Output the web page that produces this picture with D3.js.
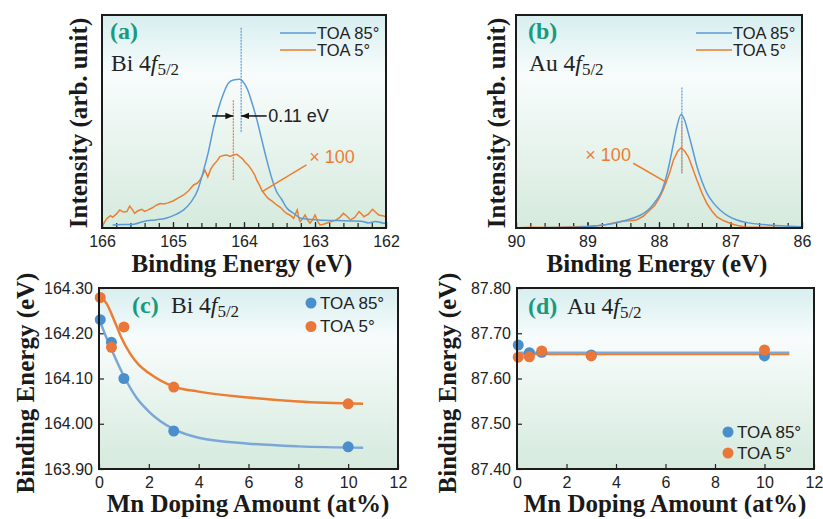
<!DOCTYPE html>
<html>
<head>
<meta charset="utf-8">
<script src="https://cdn.jsdelivr.net/npm/d3@7"></script>
<style>
body { margin: 0; background: #fff; }
svg { display: block; }
</style>
</head>
<body>
<svg id="chart" width="823" height="519"></svg>
<script>
// ---- data ----
// (a) Bi 4f5/2 spectra: [binding energy eV, intensity arb.]
var biToa85 = [[165.85,1.4],[165.7,1.6],[165.55,1.8],[165.4,3.2],[165.25,3.8],[165.1,4.6],[164.95,6.5],[164.85,8.5],[164.75,12],[164.65,18],[164.57,27],[164.5,36],[164.43,47],[164.36,56],[164.29,63],[164.22,68],[164.15,69.5],[164.06,69.8],[164.0,68],[163.95,65],[163.89,59],[163.82,51],[163.75,41.5],[163.68,32],[163.61,23.5],[163.54,17],[163.47,13.5],[163.4,9.5],[163.3,6.8],[163.2,4.6],[163.05,4],[162.9,3.6],[162.7,3.5],[162.5,3.3],[162.35,3.2],[162.25,2.4],[162.15,3],[162.05,2.4],[162.0,2.2]];
var biToa5 = [[166.0,0.6],[165.96,3],[165.93,4.5],[165.88,5.8],[165.85,5],[165.8,6.5],[165.75,8.5],[165.7,7.5],[165.65,7.7],[165.61,10.3],[165.57,8.5],[165.54,6.9],[165.5,8],[165.44,8.8],[165.4,7.8],[165.35,8.5],[165.29,9.5],[165.23,10.8],[165.18,11.5],[165.13,11.3],[165.07,11.8],[165.0,12.7],[164.93,14],[164.85,15.5],[164.78,17.5],[164.71,20.2],[164.66,21],[164.62,22.5],[164.58,25],[164.55,27.2],[164.51,24],[164.47,27.5],[164.43,29.6],[164.38,31.5],[164.34,33.5],[164.29,34],[164.24,34.3],[164.2,33.6],[164.15,34.3],[164.1,34.6],[164.06,33.5],[164.02,32.5],[163.99,31.1],[163.94,29.5],[163.89,27.2],[163.85,25],[163.82,22.5],[163.78,20],[163.75,17.8],[163.7,15.5],[163.66,13.9],[163.6,12.5],[163.54,10.8],[163.48,9.5],[163.44,8],[163.4,6.9],[163.35,6],[163.3,4.5],[163.27,7],[163.25,8.5],[163.23,5],[163.21,3],[163.17,4.5],[163.14,6.1],[163.1,3.5],[163.07,2.2],[163.03,4],[163.0,6.1],[162.96,3],[162.93,1.4],[162.88,1.8],[162.84,2.2],[162.77,3],[162.7,3.8],[162.65,5],[162.6,6.9],[162.55,5.5],[162.5,3.8],[162.44,5],[162.38,7.7],[162.34,6.5],[162.31,5.3],[162.25,6.5],[162.19,8.8],[162.15,7.5],[162.1,6.1],[162.05,5.8],[162.0,5.3]];
var biPeak85 = 164.04, biPeak5 = 164.15;

// (b) Au 4f5/2 spectra
var auToa85 = [[90.0,0],[89.5,0.2],[89.0,0.6],[88.75,1.5],[88.55,2.8],[88.35,4.8],[88.22,6.7],[88.12,9.5],[88.04,12.9],[87.96,17.5],[87.9,23.8],[87.85,31],[87.8,39.4],[87.75,47.5],[87.69,53.4],[87.64,50.5],[87.59,44.6],[87.53,37],[87.47,29],[87.4,22],[87.33,16.4],[87.24,11.8],[87.15,8.6],[87.03,5.6],[86.92,3.9],[86.75,2.4],[86.55,1.6],[86.3,1],[86.0,0.6]];
var auToa5 = [[90.0,0],[89.8,0.3],[89.5,0.2],[89.25,0.5],[89.0,0.8],[88.85,1.2],[88.73,1.7],[88.62,2.5],[88.5,3.3],[88.4,3.4],[88.31,3.9],[88.22,5.5],[88.13,8.3],[88.06,10.5],[87.99,14.5],[87.94,18],[87.9,21.5],[87.85,26],[87.8,31.7],[87.74,36],[87.69,37.7],[87.64,36],[87.59,33.4],[87.53,28],[87.47,22.5],[87.4,16.5],[87.33,11.5],[87.26,8],[87.19,5.2],[87.1,3.5],[86.99,2],[86.9,1.2],[86.8,0.5],[86.5,0.3],[86.0,0]];
var auPeak = 87.68;

// (c) Bi 4f5/2 peak position vs Mn doping
var mnAmount = [0.05, 0.5, 1, 3, 10];
var biBE85 = [164.23, 164.18, 164.10, 163.984, 163.949];
var biBE5 = [164.279, 164.169, 164.214, 164.081, 164.044];
var biFit85 = [[0.0,164.232],[0.3,164.19],[0.6,164.152],[1.0,164.105],[1.5,164.058],[2.0,164.027],[3.0,163.988],[4.0,163.969],[6.0,163.956],[8.0,163.95],[10.6,163.947]];
var biFit5 = [[0.0,164.282],[0.3,164.266],[0.6,164.23],[0.9,164.19],[1.25,164.155],[1.6,164.13],[2.0,164.112],[3.0,164.082],[4.0,164.071],[6.0,164.058],[8.0,164.049],[10.6,164.044]];

// (d) Au 4f5/2 peak position vs Mn doping
var auBE85 = [87.674, 87.657, 87.658, 87.652, 87.650];
var auBE5 = [87.647, 87.648, 87.661, 87.650, 87.663];
var auFit85 = [[0, 87.657], [11, 87.657]];
var auFit5 = [[0, 87.654], [11, 87.654]];

// ticks
var biTicks = [166, 165, 164, 163, 162];
var auTicks = [90, 89, 88, 87, 86];
var mnTicks = [0, 2, 4, 6, 8, 10, 12];
var biBETicks = [163.9, 164.0, 164.1, 164.2, 164.3];
var auBETicks = [87.4, 87.5, 87.6, 87.7, 87.8];

var blue = "#5b9bd5", orange = "#ed7d31", teal = "#179b7c";
var blueDot = "#4a8fcc", orangeDot = "#ea773a";
var serif = "'Liberation Serif', 'Times New Roman', serif";
var sans = "'Liberation Sans', Arial, sans-serif";

var svg = d3.select("#chart");
var defs = svg.append("defs");
var grad = defs.append("linearGradient").attr("id", "bg")
    .attr("x1", 0).attr("y1", 0).attr("x2", 0).attr("y2", 1);
grad.append("stop").attr("offset", "0%").attr("stop-color", "#d7eeef");
grad.append("stop").attr("offset", "28%").attr("stop-color", "#f8fcfc");
grad.append("stop").attr("offset", "100%").attr("stop-color", "#d5eadd");

defs.append("marker").attr("id", "arrow")
    .attr("viewBox", "0 0 10 10").attr("refX", 10).attr("refY", 5)
    .attr("markerWidth", 8).attr("markerHeight", 8)
    .attr("markerUnits", "userSpaceOnUse")
    .attr("orient", "auto")
  .append("path").attr("d", "M0,1 L10,5 L0,9 Z").attr("fill", "#111");

function panelBox(b) {
    svg.append("rect").attr("x", b.l).attr("y", b.t)
        .attr("width", b.r - b.l).attr("height", b.b - b.t)
        .attr("fill", "url(#bg)");
}
function frame(b) {
    svg.append("rect").attr("x", b.l).attr("y", b.t)
        .attr("width", b.r - b.l).attr("height", b.b - b.t)
        .attr("fill", "none").attr("stroke", "#1b1b1b").attr("stroke-width", 2);
}
function styleAxis(g) {
    g.select(".domain").remove();
    g.selectAll(".tick line").attr("stroke", "#222").attr("stroke-width", 1.2);
    g.selectAll(".tick text").attr("font-family", sans).attr("font-size", 16).attr("fill", "#222");
}
function title(x, y, txt, rot) {
    var t = svg.append("text").attr("font-family", serif).attr("font-weight", "bold")
        .attr("font-size", 25).attr("fill", "#1a1a1a").attr("text-anchor", "middle")
        .attr("dy", "0.35em").text(txt);
    if (rot) t.attr("transform", "translate(" + x + "," + y + ") rotate(-90)");
    else t.attr("x", x).attr("y", y);
}
function label(x, y, tag, x2, y2, elem) {
    svg.append("text").attr("x", x).attr("y", y).attr("font-family", serif)
        .attr("font-weight", "bold").attr("font-size", 24).attr("fill", teal).text(tag);
    var t = svg.append("text").attr("x", x2).attr("y", y2).attr("font-family", serif)
        .attr("font-size", 23.5).attr("fill", "#222");
    t.append("tspan").text(elem + " 4");
    t.append("tspan").attr("font-style", "italic").text("f");
    t.append("tspan").attr("font-size", 17).attr("dy", 4).text("5/2");
}

// ---- spectrum panels (a), (b) ----
function spectrum(b, dom, ticks, s85, s5) {
    var x = d3.scaleLinear().domain(dom).range([b.l, b.r]);
    var y = d3.scaleLinear().domain([0, 100]).range([b.b, b.t]);
    panelBox(b);
    var minor = d3.range(dom[1], dom[0] + 0.001, 0.2);
    svg.append("g").attr("transform", "translate(0," + b.b + ")")
        .call(d3.axisBottom(x).tickValues(minor).tickSize(-5).tickFormat(""))
        .call(styleAxis);
    svg.append("g").attr("transform", "translate(0," + b.b + ")")
        .call(d3.axisBottom(x).tickValues(ticks).tickSize(-6).tickPadding(8).tickFormat(d3.format("d")))
        .call(styleAxis);
    var line = d3.line().x(function (d) { return x(d[0]); }).y(function (d) { return y(d[1]); });
    svg.append("path").datum(s5).attr("d", line.curve(d3.curveLinear))
        .attr("fill", "none").attr("stroke", orange).attr("stroke-width", 1.5);
    svg.append("path").datum(s85).attr("d", line.curve(d3.curveMonotoneX))
        .attr("fill", "none").attr("stroke", blue).attr("stroke-width", 1.5);
    // legend
    [["TOA 85°", blue], ["TOA 5°", orange]].forEach(function (d, i) {
        var ly = b.t + 18 + i * 17;
        svg.append("line").attr("x1", b.r - 106).attr("x2", b.r - 70)
            .attr("y1", ly).attr("y2", ly).attr("stroke", d[1]).attr("stroke-width", 1.5);
        svg.append("text").attr("x", b.r - 69).attr("y", ly).attr("dy", "0.35em")
            .attr("font-family", sans).attr("font-size", 16.5).attr("fill", "#222").text(d[0]);
    });
    return { x: x, y: y };
}

var A = { l: 102, r: 386, t: 15, b: 228 };
var B = { l: 516, r: 802, t: 15, b: 228 };
var C = { l: 99, r: 398, t: 288, b: 469 };
var D = { l: 517, r: 814, t: 288, b: 469 };

var sa = spectrum(A, [166, 162], biTicks, biToa85, biToa5);
// peak markers in (a)
svg.append("line").attr("x1", sa.x(biPeak85)).attr("x2", sa.x(biPeak85))
    .attr("y1", sa.y(94)).attr("y2", sa.y(44.6))
    .attr("stroke", blue).attr("stroke-width", 1.2).attr("stroke-dasharray", "2,1");
svg.append("line").attr("x1", sa.x(biPeak5)).attr("x2", sa.x(biPeak5))
    .attr("y1", sa.y(60)).attr("y2", sa.y(22.5))
    .attr("stroke", orange).attr("stroke-width", 1.2).attr("stroke-dasharray", "2,1");
svg.append("line").attr("x1", sa.x(164.45)).attr("x2", sa.x(biPeak5))
    .attr("y1", sa.y(52.6)).attr("y2", sa.y(52.6))
    .attr("stroke", "#111").attr("stroke-width", 1.5).attr("marker-end", "url(#arrow)");
svg.append("line").attr("x1", sa.x(163.68)).attr("x2", sa.x(biPeak85))
    .attr("y1", sa.y(52.6)).attr("y2", sa.y(52.6))
    .attr("stroke", "#111").attr("stroke-width", 1.5).attr("marker-end", "url(#arrow)");
svg.append("text").attr("x", sa.x(163.66)).attr("y", sa.y(52.6)).attr("dy", "0.35em")
    .attr("font-family", sans).attr("font-size", 18).attr("fill", "#222").text("0.11 eV");
svg.append("line").attr("x1", sa.x(163.12)).attr("y1", sa.y(29.6))
    .attr("x2", sa.x(163.75)).attr("y2", sa.y(17))
    .attr("stroke", orange).attr("stroke-width", 1.5);
svg.append("text").attr("x", sa.x(163.08)).attr("y", sa.y(33.3)).attr("dy", "0.35em")
    .attr("font-family", sans).attr("font-size", 18).attr("fill", orange).text("× 100");
frame(A);

var sb = spectrum(B, [90, 86], auTicks, auToa85, auToa5);
svg.append("line").attr("x1", sb.x(auPeak)).attr("x2", sb.x(auPeak))
    .attr("y1", sb.y(66)).attr("y2", sb.y(25.7))
    .attr("stroke", blue).attr("stroke-width", 1.2).attr("stroke-dasharray", "2,1");
svg.append("line").attr("x1", sb.x(auPeak)).attr("x2", sb.x(auPeak))
    .attr("y1", sb.y(50)).attr("y2", sb.y(25.7))
    .attr("stroke", orange).attr("stroke-width", 1.2).attr("stroke-dasharray", "2,1").attr("opacity", 0.8);
svg.append("line").attr("x1", sb.x(88.36)).attr("y1", sb.y(30.4))
    .attr("x2", sb.x(87.89)).attr("y2", sb.y(21.3))
    .attr("stroke", orange).attr("stroke-width", 1.5);
svg.append("text").attr("x", sb.x(89.03)).attr("y", sb.y(34.3)).attr("dy", "0.35em")
    .attr("font-family", sans).attr("font-size", 18).attr("fill", orange).text("× 100");
frame(B);

label(110, 39, "(a)", 111, 71, "Bi");
label(528, 39, "(b)", 529, 71, "Au");
title(78, 123, "Intensity (arb. unit)", true);
title(496, 123, "Intensity (arb. unit)", true);
title(242, 263, "Binding Energy (eV)");
title(657, 263, "Binding Energy (eV)");

// ---- peak position panels (c), (d) ----
function shiftPanel(b, ydom, yticks, v85, v5, f85, f5, legendPos) {
    var x = d3.scaleLinear().domain([0, 12]).range([b.l, b.r]);
    var y = d3.scaleLinear().domain(ydom).range([b.b, b.t]);
    panelBox(b);
    svg.append("g").attr("transform", "translate(0," + b.b + ")")
        .call(d3.axisBottom(x).tickValues(mnTicks).tickSize(-5).tickPadding(8).tickFormat(d3.format("d")))
        .call(styleAxis);
    svg.append("g").attr("transform", "translate(" + b.l + ",0)")
        .call(d3.axisLeft(y).tickValues(yticks).tickSize(-5).tickPadding(6).tickFormat(d3.format(".2f")))
        .call(styleAxis);
    var line = d3.line().curve(d3.curveMonotoneX)
        .x(function (d) { return x(d[0]); }).y(function (d) { return y(d[1]); });
    svg.append("path").datum(f5).attr("d", line)
        .attr("fill", "none").attr("stroke", orange).attr("stroke-width", 2.5);
    svg.append("path").datum(f85).attr("d", line)
        .attr("fill", "none").attr("stroke", "#7ba7d8").attr("stroke-width", 2.5);
    svg.append("g").selectAll("circle").data(v85).join("circle")
        .attr("cx", function (d, i) { return x(mnAmount[i]); }).attr("cy", function (d) { return y(d); })
        .attr("r", 5.5).attr("fill", blueDot);
    svg.append("g").selectAll("circle").data(v5).join("circle")
        .attr("cx", function (d, i) { return x(mnAmount[i]); }).attr("cy", function (d) { return y(d); })
        .attr("r", 5.5).attr("fill", orangeDot);
    [["TOA 85°", blueDot], ["TOA 5°", orangeDot]].forEach(function (d, i) {
        var ly = legendPos[1] + i * legendPos[2];
        svg.append("circle").attr("cx", legendPos[0]).attr("cy", ly).attr("r", 5.5).attr("fill", d[1]);
        svg.append("text").attr("x", legendPos[0] + 9).attr("y", ly).attr("dy", "0.35em")
            .attr("font-family", sans).attr("font-size", 17).attr("fill", "#222").text(d[0]);
    });
    frame(b);
}

shiftPanel(C, [163.9, 164.3], biBETicks, biBE85, biBE5, biFit85, biFit5, [311, 303, 23.5]);
shiftPanel(D, [87.4, 87.8], auBETicks, auBE85, auBE5, auFit85, auFit5, [728, 432, 21]);

label(132, 313, "(c)", 171, 313, "Bi");
label(528, 314, "(d)", 567, 314, "Au");
title(25, 383, "Binding Energy (eV)", true);
title(447, 383, "Binding Energy (eV)", true);
title(248, 503, "Mn Doping Amount (at%)");
title(665, 503, "Mn Doping Amount (at%)");
</script>
</body>
</html>
